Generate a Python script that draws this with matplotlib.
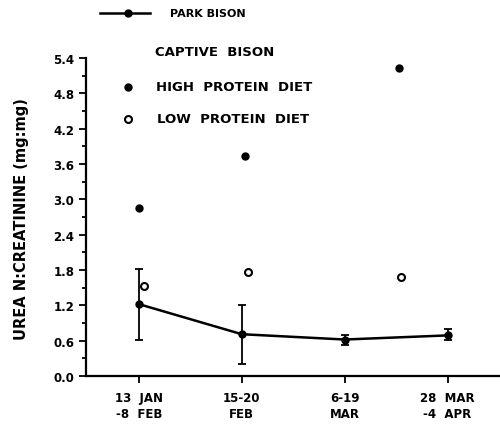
import numpy as np
from matplotlib import pyplot as plt
from matplotlib.ticker import MultipleLocator

# park bison, mean and error bar limits per sampling period
park_x = [1, 2, 3, 4]
park_y = [1.22, 0.71, 0.62, 0.69]
park_lo = [0.62, 0.20, 0.52, 0.62]
park_hi = [1.82, 1.20, 0.69, 0.80]

# captive bison (sampled on other dates)
high_x = [1.0, 2.03, 3.53]
high_y = [2.86, 3.73, 5.23]
low_x = [1.05, 2.06, 3.55]
low_y = [1.53, 1.76, 1.68]

period_labels = ["13  JAN\n-8  FEB", "15-20\nFEB", "6-19\nMAR", "28  MAR\n-4  APR"]

plt.rcParams['font.family'] = ['DejaVu Sans']
plt.rcParams['font.weight'] = 'bold'

fig = plt.figure(figsize=(5.0, 4.27), dpi=100)
ax = fig.add_axes([0.172, 0.117, 0.826, 0.745])

yerr = [np.subtract(park_y, park_lo), np.subtract(park_hi, park_y)]
ax.errorbar(park_x, park_y, yerr=yerr, color='black', lw=1.8, marker='o', ms=5,
            capsize=3, elinewidth=1.3, capthick=1.3)
ax.plot(high_x, high_y, 'o', color='black', ms=5)
ax.plot(low_x, low_y, 'o', mfc='white', mec='black', mew=1.5, ms=5)

ax.set_xlim(0.485, 4.5)
ax.set_ylim(0, 5.4)
ax.set_xticks(park_x)
ax.set_xticklabels(period_labels, fontsize=8.5, fontweight='bold', linespacing=1.3)
ax.yaxis.set_major_locator(MultipleLocator(0.6))
ax.yaxis.set_minor_locator(MultipleLocator(0.3))
ax.yaxis.set_major_formatter(plt.FuncFormatter(lambda v, p: f"{v:.1f}"))
for lab in ax.get_yticklabels():
    lab.set_fontsize(8.5)
    lab.set_fontweight('bold')
ax.tick_params(axis='both', direction='out', width=1.3, length=5)
ax.tick_params(axis='x', pad=6)
ax.tick_params(axis='y', which='minor', direction='out', width=1.3, length=3)
ax.spines['top'].set_visible(False)
ax.spines['right'].set_visible(False)
ax.spines['left'].set_linewidth(1.6)
ax.spines['bottom'].set_linewidth(1.6)
ax.set_ylabel("UREA N:CREATININE (mg:mg)", fontsize=10.5, fontweight='bold')
ax.yaxis.set_label_coords(-0.138, 0.497)

# legend drawn by hand, as in the original figure
fig.add_artist(plt.Line2D([0.2, 0.3], [0.968, 0.968], color='black', lw=1.8))
fig.add_artist(plt.Line2D([0.256], [0.968], marker='o', color='black', ms=5))
fig.text(0.34, 0.968, "PARK BISON", fontsize=8, fontweight='bold', va='center')
fig.text(0.31, 0.878, "CAPTIVE  BISON", fontsize=9.5, fontweight='bold', va='center')
fig.add_artist(plt.Line2D([0.256], [0.794], marker='o', color='black', ms=5))
fig.text(0.312, 0.794, "HIGH  PROTEIN  DIET", fontsize=9.5, fontweight='bold', va='center')
fig.add_artist(plt.Line2D([0.256], [0.719], marker='o', mfc='white', mec='black', mew=1.5, ms=5))
fig.text(0.314, 0.719, "LOW  PROTEIN  DIET", fontsize=9.5, fontweight='bold', va='center')

plt.savefig("out.png", dpi=100)
